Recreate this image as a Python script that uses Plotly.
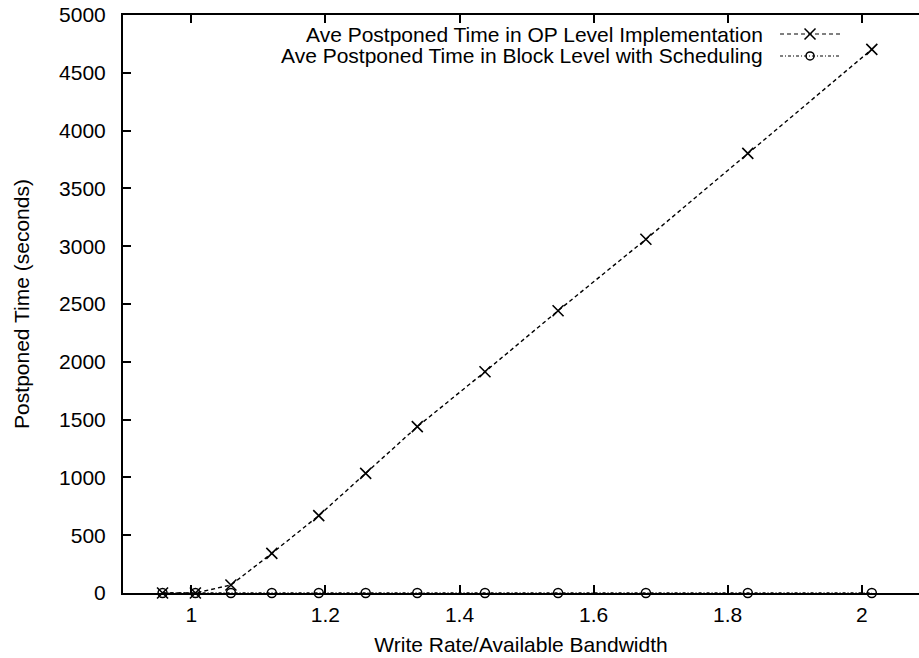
import plotly.graph_objects as go

# Data
ratio = [0.957, 1.006, 1.059, 1.12, 1.19, 1.26, 1.337, 1.438, 1.547, 1.678, 1.83, 2.015]
op_level = [0, 0, 69, 343, 669, 1035, 1439, 1914, 2442, 3060, 3803, 4703]
block_sched = [0, 0, 0, 0, 0, 0, 0, 0, 0, 0, 0, 0]

series_names = ["Ave Postponed Time in OP Level Implementation",
                "Ave Postponed Time in Block Level with Scheduling"]

x_ticks = [1, 1.2, 1.4, 1.6, 1.8, 2]
y_ticks = [0, 500, 1000, 1500, 2000, 2500, 3000, 3500, 4000, 4500, 5000]

FONT = "Liberation Sans, Arial, Helvetica, sans-serif"
FS = 21

fig = go.Figure()

fig.add_trace(go.Scatter(
    x=ratio, y=block_sched, mode="lines+markers", name=series_names[1],
    line=dict(color="black", width=1.3, dash="3px,2px,1px,2px"),
    marker=dict(symbol="circle-open", size=9, color="black", line=dict(width=1.5)),
    showlegend=False, cliponaxis=False))

fig.add_trace(go.Scatter(
    x=ratio, y=op_level, mode="lines+markers", name=series_names[0],
    line=dict(color="black", width=1.4, dash="4px,3px"),
    marker=dict(symbol="x-thin-open", size=11, color="black", line=dict(width=1.6, color="black")),
    showlegend=False, cliponaxis=False))

# Custom legend (text left, sample on right) on an overlay axis spanning the plot area
leg_rows = [0.9671, 0.9291]
leg_dash = ["4px,3px", "3px,2px,1px,2px"]
leg_sym = ["x-thin-open", "circle-open"]
leg_size = [11, 8]
for i in range(2):
    fig.add_trace(go.Scatter(
        x=[0.8254, 0.9008], y=[leg_rows[i], leg_rows[i]], mode="lines",
        line=dict(color="black", width=1.2, dash=leg_dash[i]),
        xaxis="x2", yaxis="y2", showlegend=False, hoverinfo="skip"))
    fig.add_trace(go.Scatter(
        x=[0.8631], y=[leg_rows[i]], mode="markers",
        marker=dict(symbol=leg_sym[i], size=leg_size[i], color="black",
                    line=dict(width=1.5, color="black")),
        xaxis="x2", yaxis="y2", showlegend=False, hoverinfo="skip"))
    fig.add_annotation(
        x=0.8065, y=leg_rows[i], xref="x2", yref="y2", text=series_names[i],
        showarrow=False, xanchor="right", yanchor="middle",
        font=dict(family=FONT, size=FS, color="black"))

fig.update_layout(
    width=919, height=658,
    margin=dict(l=123, r=0, t=15, b=65),
    paper_bgcolor="white", plot_bgcolor="white",
    font=dict(family=FONT, size=FS, color="black"),
    showlegend=False,
    xaxis=dict(
        range=[0.898, 2.0854], tickvals=x_ticks, ticktext=[str(v) for v in x_ticks],
        ticks="inside", ticklen=8, tickwidth=1.5, tickcolor="black",
        showline=True, linecolor="black", linewidth=2, mirror="ticks",
        showgrid=False, zeroline=False, ticklabelstandoff=2,
        title=dict(text="Write Rate/Available Bandwidth", standoff=12,
                   font=dict(family=FONT, size=FS, color="black")),
    ),
    yaxis=dict(
        range=[0, 5000], tickvals=y_ticks,
        ticks="inside", ticklen=8, tickwidth=1.5, tickcolor="black",
        showline=True, linecolor="black", linewidth=2, mirror=False,
        showgrid=False, zeroline=False, ticklabelstandoff=11,
        title=dict(text="Postponed Time (seconds)", standoff=24,
                   font=dict(family=FONT, size=FS, color="black")),
    ),
    xaxis2=dict(range=[0, 1], overlaying="x", visible=False, fixedrange=True),
    yaxis2=dict(range=[0, 1], overlaying="y", visible=False, fixedrange=True),
)

fig.write_html("out.html")
